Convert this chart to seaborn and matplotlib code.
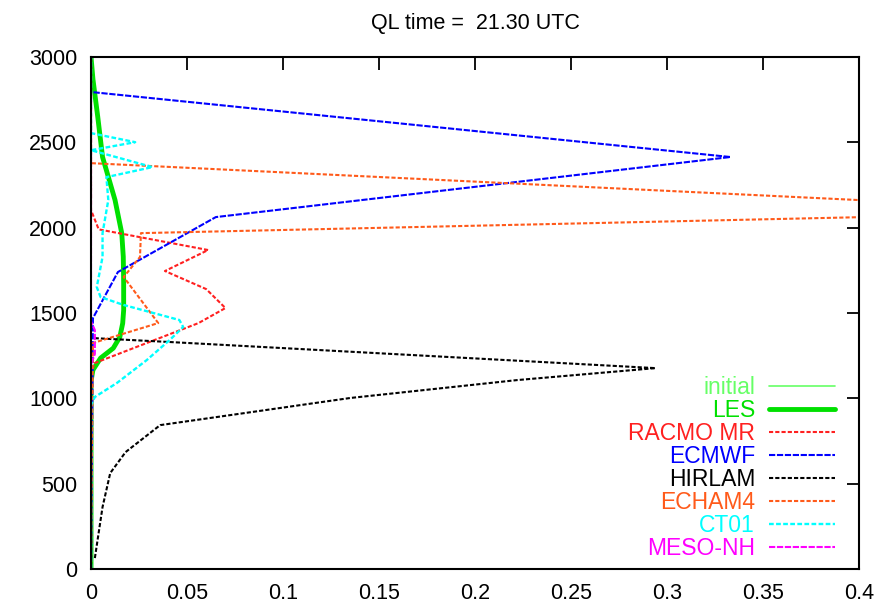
import pandas as pd
import seaborn as sns
import matplotlib.pyplot as plt

# liquid water profiles, height (m) vs ql (g/kg)
initial_z = [0, 3000]
initial_ql = [0, 0]

les_z = [0, 1100, 1166, 1236, 1294, 1359, 1440, 1517, 1675, 1830, 1968, 2162, 2414, 2650, 2870, 3000]
les_ql = [0, 0, 0.001, 0.005, 0.0116, 0.015, 0.0165, 0.017, 0.017, 0.0168, 0.016, 0.0125, 0.006, 0.0035, 0.001, 0]

racmo_z = [0, 1150, 1207, 1441, 1529, 1640, 1746, 1869, 1990, 2103, 3000]
racmo_ql = [0, 0, 0.002, 0.056, 0.070, 0.060, 0.0385, 0.061, 0.004, 0, 0]

ecmwf_z = [0, 1470, 1740, 2062, 2414, 2795, 3000]
ecmwf_ql = [0, 0.001, 0.014, 0.065, 0.333, 0, 0]

hirlam_z = [64, 363, 562, 685, 843, 1002, 1107, 1177, 1330, 1353]
hirlam_ql = [0.002, 0.006, 0.010, 0.018, 0.036, 0.135, 0.222, 0.294, 0.041, 0.001]

echam_z = [0, 1324, 1441, 1711, 1828, 1968, 2093, 2378, 3000]
echam_ql = [0, 0.001, 0.035, 0.017, 0.0255, 0.026, 0.527, 0, 0]

ct01_z = [0, 961, 1008, 1090, 1224, 1342, 1418, 1459, 1547, 1593, 1652, 1828, 1968, 2162,
          2296, 2355, 2454, 2501, 2554, 3000]
ct01_ql = [0, 0, 0.002, 0.0135, 0.029, 0.041, 0.048, 0.046, 0.017, 0.005, 0.003, 0.006, 0.006, 0.009,
           0.008, 0.032, 0, 0.023, 0, 0]

mesonh_z = [0, 1200, 1260, 1400, 1450, 3000]
mesonh_ql = [0, 0, 0.002, 0.002, 0, 0]

xticks = [0, 0.05, 0.1, 0.15, 0.2, 0.25, 0.3, 0.35, 0.4]
xticklabels = ["0", "0.05", "0.1", "0.15", "0.2", "0.25", "0.3", "0.35", "0.4"]
yticks = [0, 500, 1000, 1500, 2000, 2500, 3000]

dash = (0, (2, 1))
series = [
    ("initial", initial_z, initial_ql, "#66ff66", 1.2, "-"),
    ("LES", les_z, les_ql, "#00e000", 3.5, "-"),
    ("RACMO MR", racmo_z, racmo_ql, "#ff2020", 1.5, dash),
    ("ECMWF", ecmwf_z, ecmwf_ql, "#0000ff", 1.5, (0, (3, 0.8))),
    ("HIRLAM", hirlam_z, hirlam_ql, "#000000", 1.5, dash),
    ("ECHAM4", echam_z, echam_ql, "#ff5a1a", 1.5, dash),
    ("CT01", ct01_z, ct01_ql, "#00ffff", 1.7, dash),
    ("MESO-NH", mesonh_z, mesonh_ql, "#ff00ff", 1.5, (0, (3, 0.8))),
]

sns.set_style("white")
plt.rcParams["font.family"] = ["Liberation Sans", "DejaVu Sans"]
plt.rcParams["text.color"] = "black"
plt.rcParams["xtick.color"] = "black"
plt.rcParams["ytick.color"] = "black"

fig = plt.figure(figsize=(8.95, 6.13), dpi=100)
ax = fig.add_axes([0.1017, 0.0718, 0.8581, 0.8352])

for name, z, ql, color, lw, ls in series:
    df = pd.DataFrame({"ql": ql, "z": z})
    sns.lineplot(data=df, x="ql", y="z", sort=False, estimator=None, color=color,
                 linewidth=lw, linestyle=ls, label=name, ax=ax)

ax.set_xlim(0, 0.4)
ax.set_ylim(0, 3000)
ax.set_xticks(xticks)
ax.set_xticklabels(xticklabels)
ax.set_yticks(yticks)
ax.set_xlabel("")
ax.set_ylabel("")
ax.tick_params(direction="in", length=9, width=1.3, top=True, right=True,
               labelsize=15.5, pad=10, color="black", labelcolor="black")
for sp in ax.spines.values():
    sp.set_color("black")
    sp.set_linewidth(1.5)

ax.set_title("QL time =  21.30 UTC", fontsize=15.5, pad=20, color="black")

leg = ax.legend(loc="lower right", bbox_to_anchor=(0.969, 0.018), frameon=False,
                markerfirst=False, labelcolor="linecolor", fontsize=16.5,
                handlelength=2.9, handletextpad=0.6, labelspacing=0.0,
                borderpad=0, borderaxespad=0)

fig.savefig("out.png", dpi=100)
